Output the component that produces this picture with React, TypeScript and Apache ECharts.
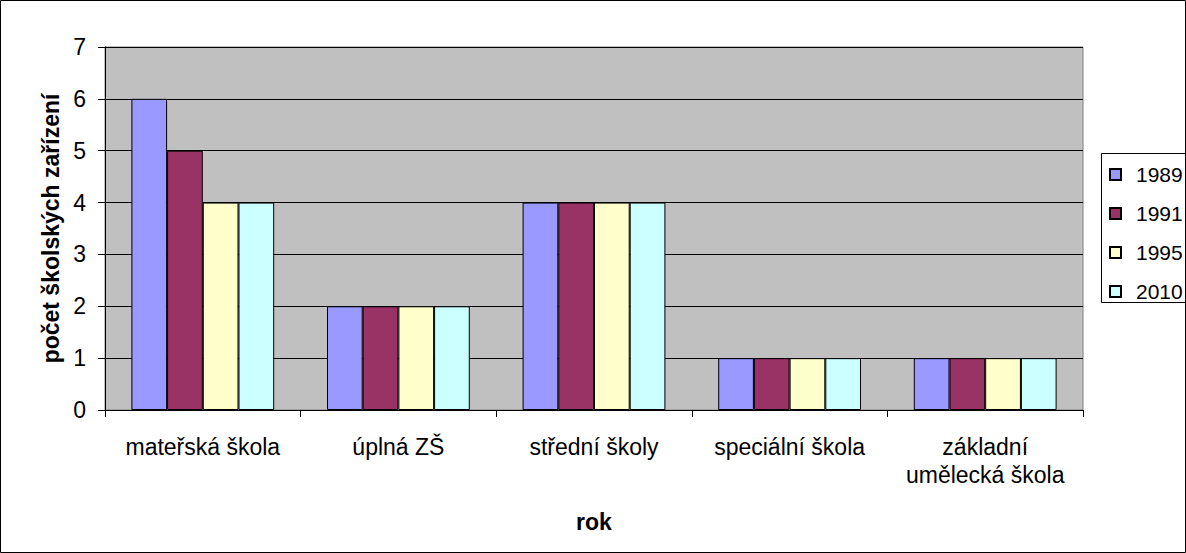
import React, { useEffect, useRef } from "react";
import * as echarts from "echarts";

const categories = [
  "mateřská škola",
  "úplná ZŠ",
  "střední školy",
  "speciální škola",
  "základní\numělecká škola",
];
const years = ["1989", "1991", "1995", "2010"];
const values1989 = [6, 2, 4, 1, 1];
const values1991 = [5, 2, 4, 1, 1];
const values1995 = [4, 2, 4, 1, 1];
const values2010 = [4, 2, 4, 1, 1];
const seriesValues = [values1989, values1991, values1995, values2010];
const colors = ["#9999FF", "#993366", "#FFFFCC", "#CCFFFF"];

const FONT = "'Liberation Sans', Arial, sans-serif";

export default function App() {
  const ref = useRef<HTMLDivElement>(null);
  useEffect(() => {
    document.body.style.margin = "0";
    const chart = echarts.init(ref.current!, null, { renderer: "svg" });
    chart.setOption({
      animation: false,
      backgroundColor: "#ffffff",
      textStyle: { fontFamily: FONT },
      graphic: [
        {
          type: "rect",
          shape: { x: 0.5, y: 0.5, width: 1185, height: 552 },
          style: { fill: "none", stroke: "#000", lineWidth: 1 },
          z: 100,
        },
        {
          type: "rect",
          shape: { x: 1101.5, y: 153.5, width: 100, height: 149 },
          style: { fill: "#fff", stroke: "#000", lineWidth: 1 },
          z: 0,
        },
      ],
      grid: {
        left: 105,
        right: 103,
        top: 47,
        bottom: 143,
        show: true,
        backgroundColor: "#C0C0C0",
        borderColor: "#808080",
        borderWidth: 1,
      },
      legend: {
        orient: "vertical",
        left: 1104,
        top: 159,
        itemWidth: 11,
        itemHeight: 11,
        itemGap: 18,
        icon: "rect",
        textStyle: { fontSize: 21, color: "#000", fontFamily: FONT, padding: [0, 0, 0, 10] },
        data: years,
        z: 10,
      },
      xAxis: {
        type: "category",
        data: categories,
        name: "rok",
        nameLocation: "middle",
        nameGap: 100,
        nameTextStyle: { fontSize: 23, fontWeight: "bold", color: "#000", fontFamily: FONT },
        axisLine: { lineStyle: { color: "#000", width: 1 } },
        axisTick: { show: true, length: 7, lineStyle: { color: "#000" } },
        axisLabel: {
          fontSize: 23,
          color: "#000",
          margin: 23,
          lineHeight: 28,
          fontFamily: FONT,
          interval: 0,
        },
      },
      yAxis: {
        type: "value",
        min: 0,
        max: 7,
        interval: 1,
        name: "počet školských zařízení",
        nameLocation: "middle",
        nameGap: 41,
        nameTextStyle: { fontSize: 23, fontWeight: "bold", color: "#000", fontFamily: FONT },
        axisLine: { show: true, lineStyle: { color: "#000", width: 1 } },
        axisTick: { show: true, length: 7, lineStyle: { color: "#000" } },
        axisLabel: { fontSize: 23, color: "#000", margin: 19, fontFamily: FONT },
        splitLine: { show: true, lineStyle: { color: "#000", width: 1 } },
      },
      series: years.map((y, i) => ({
        name: y,
        type: "bar",
        data: seriesValues[i],
        barGap: "0%",
        barCategoryGap: "27%",
        itemStyle: { color: colors[i], borderColor: "#000", borderWidth: 1 },
      })),
    });
    return () => chart.dispose();
  }, []);
  return <div ref={ref} style={{ width: 1186, height: 553 }} />;
}
